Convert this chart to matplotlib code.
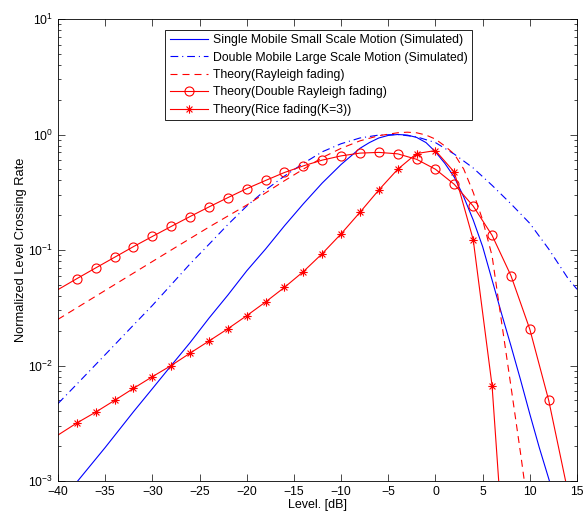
import numpy as np
import matplotlib.pyplot as plt
from matplotlib.lines import Line2D
from matplotlib.path import Path

plt.rcParams['font.family'] = ['Liberation Sans', 'DejaVu Sans']
plt.rcParams['mathtext.fontset'] = 'custom'
plt.rcParams['mathtext.rm'] = 'Liberation Sans'
plt.rcParams['mathtext.it'] = 'Liberation Sans:italic'
plt.rcParams['mathtext.default'] = 'regular'

# Single Mobile Small Scale Motion (Simulated)
single_x = [-40, -38, -35, -32, -30, -28, -26, -24, -22, -20, -18, -16, -14, -12,
            -10, -9, -8, -7, -6, -5, -4, -3, -2, -1, 0, 1, 2, 3, 4, 5, 6, 7, 8,
            9, 10, 11, 12, 13]
single_y = [6.3e-4, 9.8e-4, 1.95e-3, 3.98e-3, 6.3e-3, 0.010, 0.0158, 0.0257, 0.0407,
            0.066, 0.102, 0.162, 0.251, 0.38, 0.55, 0.646, 0.759, 0.851, 0.933,
            0.982, 1.0, 0.989, 0.944, 0.851, 0.708, 0.562, 0.427, 0.288, 0.182,
            0.107, 0.055, 0.0282, 0.0148, 7.6e-3, 3.8e-3, 1.95e-3, 1.05e-3, 5.6e-4]

# Double Mobile Large Scale Motion (Simulated)
double_x = [-40, -38, -36, -34, -32, -30, -28, -26, -24, -22, -20, -18, -16, -14,
            -12, -10, -8, -6, -4, -2, 0, 2, 4, 6, 8, 10, 12, 14, 15]
double_y = [4.68e-3, 6.9e-3, 0.0102, 0.0151, 0.0224, 0.0331, 0.0501, 0.0759, 0.112,
            0.166, 0.240, 0.331, 0.437, 0.562, 0.708, 0.832, 0.933, 0.989, 1.0,
            0.955, 0.851, 0.676, 0.513, 0.363, 0.251, 0.170, 0.102, 0.0575, 0.0457]

# Theory (Rayleigh fading)
ray_x = [-40, -36, -32, -28, -24, -20, -16, -14, -12, -10, -8, -6, -4, -3, -2, -1,
         0, 1, 2, 3, 4, 5, 6, 7, 8, 9, 10]
ray_y = [0.0251, 0.0398, 0.0631, 0.1, 0.158, 0.245, 0.398, 0.501, 0.631, 0.759,
         0.881, 0.977, 1.035, 1.047, 1.035, 0.989, 0.912, 0.794, 0.676, 0.501,
         0.316, 0.182, 0.0891, 0.024, 6.6e-3, 1.78e-3, 4.5e-4]

# Theory (Double Rayleigh fading)
dray_x = list(range(-40, 15, 2))
dray_y = [0.0454, 0.0565, 0.070, 0.0865, 0.107, 0.131, 0.160, 0.195, 0.236, 0.284,
          0.340, 0.400, 0.469, 0.535, 0.600, 0.653, 0.690, 0.700, 0.680, 0.610,
          0.500, 0.370, 0.240, 0.134, 0.060, 0.0206, 0.0050, 0.00083]

# Theory (Rice fading, K=3)
rice_x = list(range(-40, 9, 2))
rice_y = [0.0025, 0.00318, 0.00395, 0.00499, 0.00634, 0.0080, 0.0100, 0.0128,
          0.0163, 0.0208, 0.0270, 0.0355, 0.0475, 0.0650, 0.093, 0.138, 0.212,
          0.331, 0.500, 0.684, 0.726, 0.472, 0.123, 0.00668, 3e-5]

labels = ["Single Mobile Small Scale Motion (Simulated)",
          "Double Mobile Large Scale Motion (Simulated)",
          "Theory(Rayleigh fading)",
          "Theory(Double Rayleigh fading)",
          "Theory(Rice fading(K=3))"]

# matlab style asterisk marker
star = Path([(-1, 0), (1, 0), (0, -1), (0, 1),
             (-0.707, -0.707), (0.707, 0.707), (-0.707, 0.707), (0.707, -0.707)],
            [Path.MOVETO, Path.LINETO] * 4)

dashdot = (0, (7, 3.5, 1, 3.5))
dashed = (0, (6.3, 4.5))

fig = plt.figure(figsize=(5.84, 5.11), dpi=100)
ax = fig.add_axes([58 / 584, 30 / 511, 519 / 584, 462 / 511])

lw = 0.8
ax.plot(single_x, single_y, color="blue", lw=lw)
ax.plot(double_x, double_y, color="blue", lw=lw, linestyle=dashdot)
ax.plot(ray_x, ray_y, color="red", lw=lw, linestyle=dashed)
ax.plot(dray_x, dray_y, color="red", lw=lw)
ax.plot(dray_x[1:-1], dray_y[1:-1], linestyle="none", marker="o", markersize=6.5,
        markerfacecolor="none", markeredgecolor="red", markeredgewidth=lw)
ax.plot(rice_x, rice_y, color="red", lw=lw)
ax.plot(rice_x[1:-1], rice_y[1:-1], linestyle="none", marker=star, markersize=6,
        markerfacecolor="none", markeredgecolor="red", markeredgewidth=lw)

ax.set_yscale("log")
ax.set_xlim(-40, 15)
ax.set_ylim(1e-3, 10)
ax.set_xticks(range(-40, 16, 5))
ax.tick_params(which="both", direction="in", top=True, right=True, labelsize=8.8,
               width=0.5)
ax.tick_params(which="major", length=5)
ax.tick_params(which="minor", length=2.5)
for s in ax.spines.values():
    s.set_linewidth(0.6)

ax.set_xlabel("Level. [dB]", fontsize=9, labelpad=0.5)
ax.set_ylabel("Normalized Level Crossing Rate", fontsize=9.3, labelpad=0.5)

handles = [
    Line2D([], [], color="blue", lw=lw),
    Line2D([], [], color="blue", lw=lw, linestyle=dashdot),
    Line2D([], [], color="red", lw=lw, linestyle=dashed),
    Line2D([], [], color="red", lw=lw, marker="o", markersize=6.5,
           markerfacecolor="none", markeredgewidth=lw),
    Line2D([], [], color="red", lw=lw, marker=star, markersize=6,
           markerfacecolor="none", markeredgewidth=lw),
]
leg = ax.legend(handles, labels, loc="upper center", bbox_to_anchor=(0.502, 0.976),
                borderaxespad=0, fontsize=8.8, numpoints=1, handlelength=3.1,
                handletextpad=0.41, labelspacing=0.44, borderpad=0.35,
                fancybox=False, framealpha=1, edgecolor="black")
leg.get_frame().set_linewidth(0.6)

fig.savefig("out.png", dpi=100)
